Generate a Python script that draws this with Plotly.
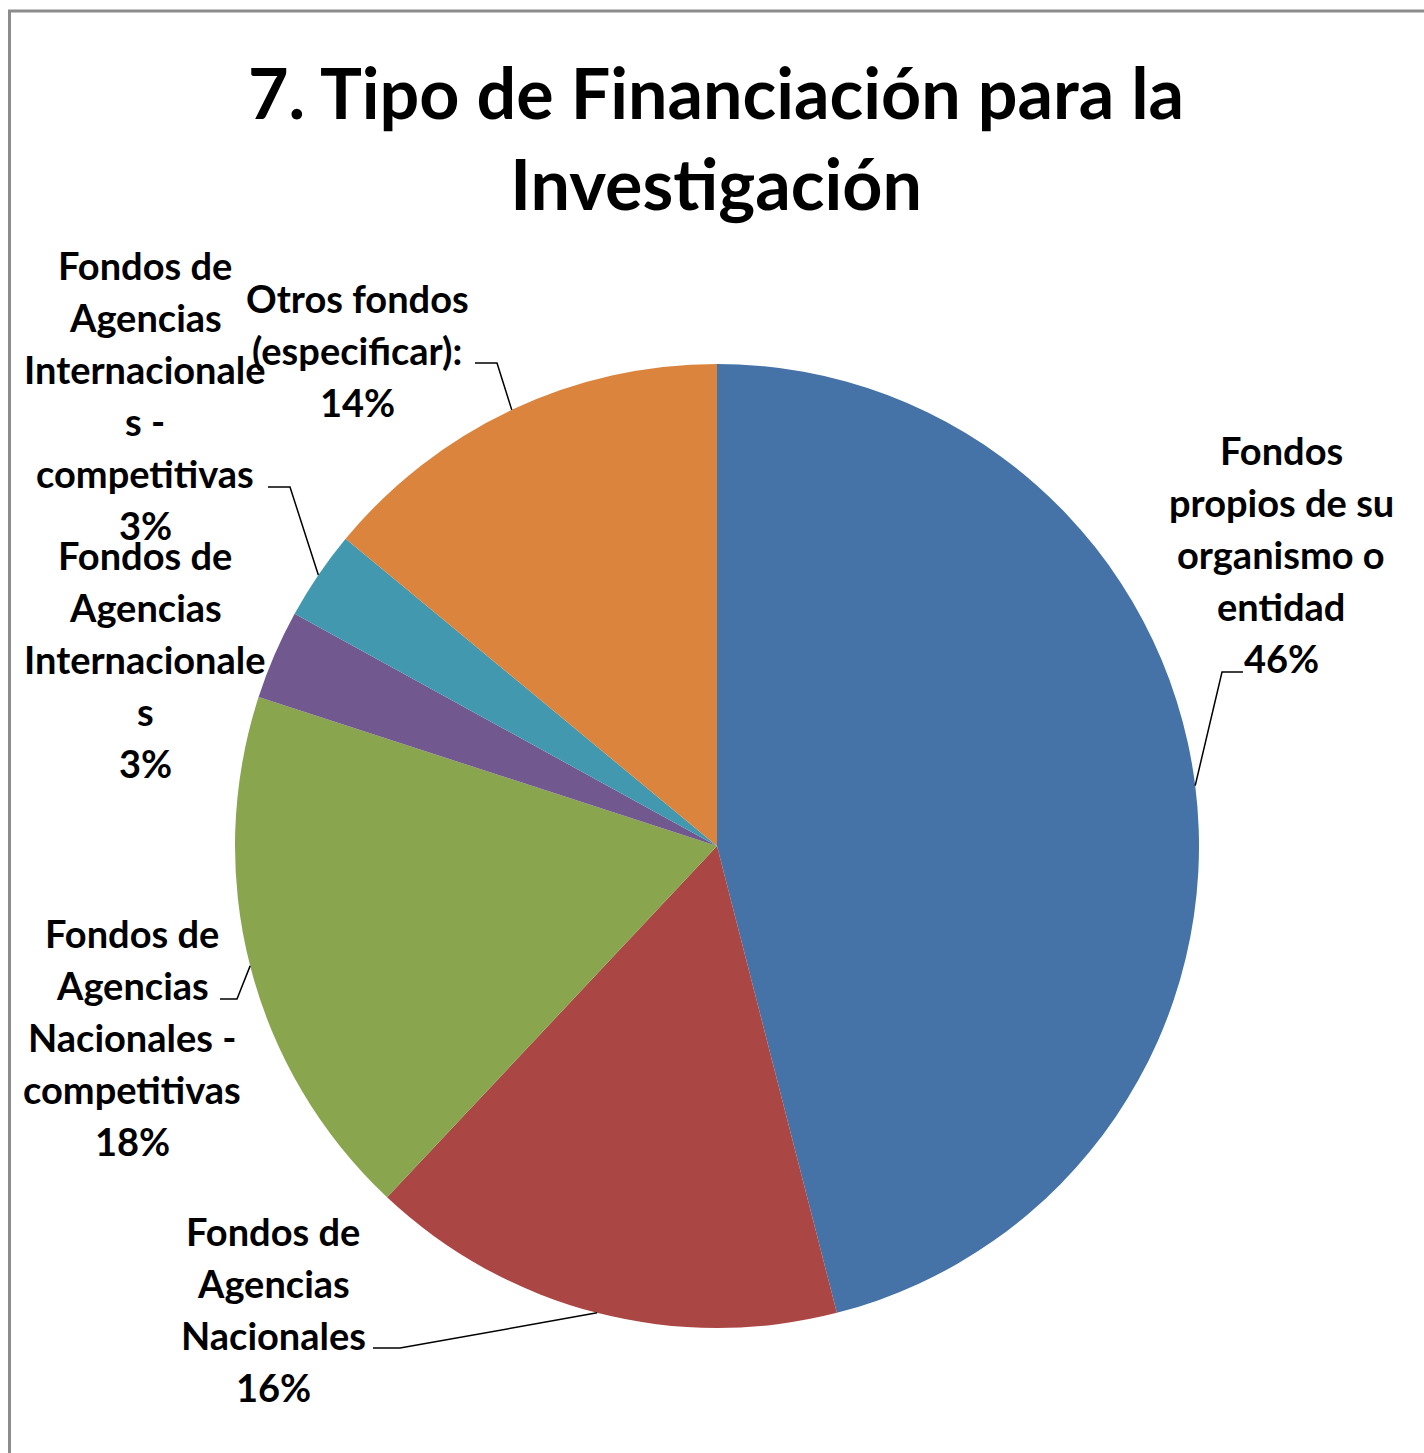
import math
import plotly.graph_objects as go

# ---------------- data ----------------
categories = [
    "Fondos propios de su organismo o entidad",
    "Fondos de Agencias Nacionales",
    "Fondos de Agencias Nacionales - competitivas",
    "Fondos de Agencias Internacionales",
    "Fondos de Agencias Internacionales - competitivas",
    "Otros fondos (especificar):",
]
values = [46, 16, 18, 3, 3, 14]
label_lines = [
    ["Fondos", "propios de su", "organismo o", "entidad"],
    ["Fondos de", "Agencias", "Nacionales"],
    ["Fondos de", "Agencias", "Nacionales -", "competitivas"],
    ["Fondos de", "Agencias", "Internacionale", "s"],
    ["Fondos de", "Agencias", "Internacionale", "s -", "competitivas"],
    ["Otros fondos", "(especificar):"],
]
colors = ["#4572A7", "#AA4643", "#89A54E", "#71588F", "#4198AF", "#DB843D"]
title_text = "7. Tipo de Financiación para la<br>Investigación"

# ---------------- layout geometry (pixels) ----------------
W, H = 1424, 1453
CX, CY, R = 717, 846, 482
FONT = "Lato, Carlito, 'Open Sans', sans-serif"
LABEL_SIZE = 38
LINE_GAP = 52

# label block: (center x, first line y) ; leader: elbow points (None = no leader)
label_pos = [
    (1281, 450),
    (273, 1231),
    (132, 933),
    (145, 555),
    (145, 265),
    (357, 298),
]
leaders = [
    [(1243, 672), (1222, 672)],
    [(373, 1348), (400, 1348)],
    [(220, 999), (237, 999)],
    None,
    [(268, 487), (290, 487)],
    [(475, 363), (497, 363)],
]


def px(x, y):
    return x / W, 1 - y / H


fig = go.Figure()
fig.add_trace(go.Pie(
    labels=categories,
    values=values,
    sort=False,
    direction="clockwise",
    rotation=0,
    marker=dict(colors=colors, line=dict(width=0)),
    textinfo="none",
    hoverinfo="label+percent",
    showlegend=False,
    domain=dict(x=[(CX - R) / W, (CX + R) / W],
                y=[1 - (CY + R) / H, 1 - (CY - R) / H]),
))

annotations = []
shapes = []

# title
tx, ty = px(716, 138)
annotations.append(dict(
    text=title_text, x=tx, y=ty, xref="paper", yref="paper",
    xanchor="center", yanchor="middle", showarrow=False,
    font=dict(family=FONT, size=70, color="#000000", weight="bold"),
))

total = sum(values)
cum = 0.0
for i, v in enumerate(values):
    mid = (cum + v / 2) / total * 2 * math.pi
    cum += v
    # point on pie edge at the slice middle
    ex = CX + R * math.sin(mid)
    ey = CY - R * math.cos(mid)
    lines = label_lines[i] + [f"{v / total * 100:.0f}%"]
    lx, ly0 = label_pos[i]
    for k, line in enumerate(lines):
        ax_, ay_ = px(lx, ly0 + k * LINE_GAP)
        annotations.append(dict(
            text=line, x=ax_, y=ay_, xref="paper", yref="paper",
            xanchor="center", yanchor="middle", showarrow=False,
            font=dict(family=FONT, size=LABEL_SIZE, color="#000000", weight="bold"),
        ))
    if leaders[i] is not None:
        pts = leaders[i] + [(ex, ey)]
        path = "M " + " L ".join(f"{px(x, y)[0]},{px(x, y)[1]}" for x, y in pts)
        shapes.append(dict(type="path", path=path, xref="paper", yref="paper",
                           line=dict(color="#000000", width=1.5)))

# chart area border (right/bottom edges lie outside the picture)
bx0, by0 = px(9.5, 11)
shapes.append(dict(type="rect", xref="paper", yref="paper",
                   x0=bx0, y0=by0, x1=1.2, y1=-0.2,
                   line=dict(color="#8C8C8C", width=3), fillcolor="rgba(0,0,0,0)"))

fig.update_layout(
    width=W, height=H,
    margin=dict(l=0, r=0, t=0, b=0),
    paper_bgcolor="#FFFFFF",
    plot_bgcolor="#FFFFFF",
    annotations=annotations,
    shapes=shapes,
)

fig.write_html(
    "out.html",
    config={"displayModeBar": False},
    post_script="document.body.style.margin='0';document.body.style.overflow='hidden';",
)
